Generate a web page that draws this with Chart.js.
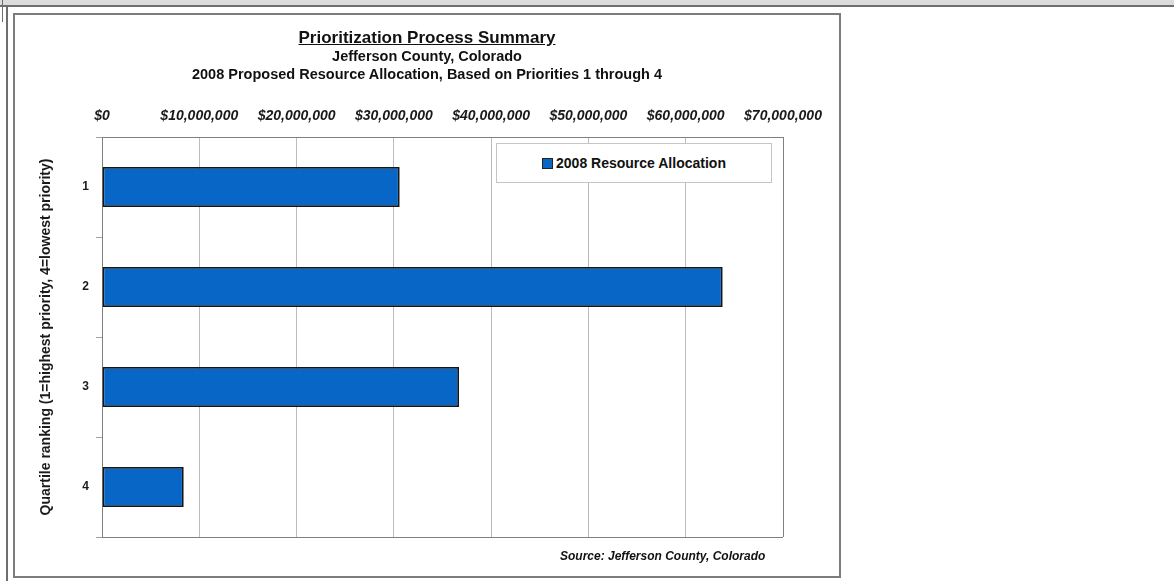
<!DOCTYPE html>
<html>
<head>
<meta charset="utf-8">
<title>Prioritization Process Summary</title>
<script src="https://cdn.jsdelivr.net/npm/chart.js@4"></script>
<style>
body { margin: 0; background: #fff; font-family: "Liberation Sans", Arial, sans-serif; }
#page { position: relative; width: 1174px; height: 581px; overflow: hidden; }
#strip { position: absolute; left: 0; top: 0; width: 1174px; height: 5px; background: #dcdcdc; border-bottom: 2px solid #6e6e6e; }
#rule { position: absolute; left: 6px; top: 6px; width: 2px; height: 575px; background: #6e6e6e; }
#rule2 { position: absolute; left: 2px; top: 0; width: 1px; height: 22px; background: #6e6e6e; }
#frame { position: absolute; left: 13px; top: 13px; width: 824px; height: 561px; border: 2px solid #7c7c7c; background: #fff; }
#chart { position: absolute; left: 0; top: 0; }
.ttl { position: absolute; left: 13px; width: 828px; text-align: center; font-weight: bold; color: #111; white-space: nowrap; }
#t1 { top: 28px; font-size: 17px; line-height: 20px; text-decoration: underline; }
#t2 { top: 47px; font-size: 14.5px; line-height: 18px; }
#t3 { top: 65px; font-size: 14.5px; line-height: 18px; }
#source { position: absolute; left: 560px; top: 549px; font-size: 12px; line-height: 14px; font-weight: bold; font-style: italic; color: #111; white-space: nowrap; }
#legend { position: absolute; left: 496px; top: 143px; width: 274px; height: 38px; border: 1px solid #c4c4c4; background: #fff;
  display: flex; align-items: center; justify-content: center; font-size: 14px; font-weight: bold; color: #111; }
#legend .sw { width: 9px; height: 9px; border: 1px solid #222; margin-right: 3px; }
</style>
</head>
<body>
<div id="page">
  <div id="strip"></div>
  <div id="rule2"></div>
  <div id="rule"></div>
  <div id="frame"></div>
  <canvas id="chart" width="1174" height="581"></canvas>
  <div class="ttl" id="t1">Prioritization Process Summary</div>
  <div class="ttl" id="t2">Jefferson County, Colorado</div>
  <div class="ttl" id="t3">2008 Proposed Resource Allocation, Based on Priorities 1 through 4</div>
  <div id="legend"></div>
  <div id="source">Source: Jefferson County, Colorado</div>
</div>
<script>
// data
const quartiles = ['1', '2', '3', '4'];
const allocation2008 = [30600000, 63800000, 36700000, 8400000];
const seriesLabel = '2008 Resource Allocation';
const axisMin = 0;
const axisMax = 70000000;
const axisStep = 10000000;
const yTitle = 'Quartile ranking (1=highest priority, 4=lowest priority)';

const barBlue = '#0866c6';
const frameGray = '#808080';
const fontFamily = '"Liberation Sans", Arial, sans-serif';

function dollars(v) {
    return '$' + String(v).replace(/\B(?=(\d{3})+(?!\d))/g, ',');
}

const ctx = document.getElementById('chart').getContext('2d');
const chart = new Chart(ctx, {
    type: 'bar',
    data: {
        labels: quartiles,
        datasets: [{
            label: seriesLabel,
            data: allocation2008,
            backgroundColor: barBlue,
            borderColor: '#151515',
            borderWidth: 1.8,
            borderSkipped: false,
            barPercentage: 0.4,
            categoryPercentage: 1
        }]
    },
    options: {
        indexAxis: 'y',
        responsive: false,
        animation: false,
        layout: { padding: { left: 16, top: 90, right: 391, bottom: 44 } },
        plugins: {
            legend: { display: false },
            tooltip: { enabled: false }
        },
        scales: {
            x: {
                position: 'top',
                min: axisMin,
                max: axisMax,
                ticks: {
                    stepSize: axisStep,
                    autoSkip: false,
                    maxRotation: 0,
                    padding: 12,
                    color: '#1a1a1a',
                    font: { family: fontFamily, size: 14, weight: 'bold', style: 'italic' },
                    callback: v => dollars(v)
                },
                grid: {
                    drawTicks: false,
                    color: c => c.index === 7 ? frameGray : '#bcbcbc'
                },
                border: { color: frameGray },
                afterFit: s => { s.height = 47; s.paddingLeft = 0; s.paddingRight = 0; }
            },
            y: {
                ticks: {
                    padding: 7,
                    color: '#1a1a1a',
                    font: { family: fontFamily, size: 12, weight: 'bold' }
                },
                grid: {
                    offset: true,
                    tickLength: 6,
                    tickColor: '#a0a0a0',
                    // only the closing line below category 4 shows (the plot frame's bottom)
                    color: c => c.type === 'tick' ? 'rgba(0,0,0,0)' : frameGray
                },
                border: { color: frameGray },
                title: {
                    display: true,
                    text: yTitle,
                    color: '#1a1a1a',
                    font: { family: fontFamily, size: 14, weight: 'bold' },
                    padding: { top: 22, bottom: 0 }
                },
                afterFit: s => { s.width = 86; s.paddingTop = 0; s.paddingBottom = 0; }
            }
        }
    }
});

// legend box from the dataset itself
const ds = chart.data.datasets[0];
const legend = document.getElementById('legend');
const sw = document.createElement('span');
sw.className = 'sw';
sw.style.background = ds.backgroundColor;
legend.appendChild(sw);
legend.appendChild(document.createTextNode(ds.label));
</script>
</body>
</html>
